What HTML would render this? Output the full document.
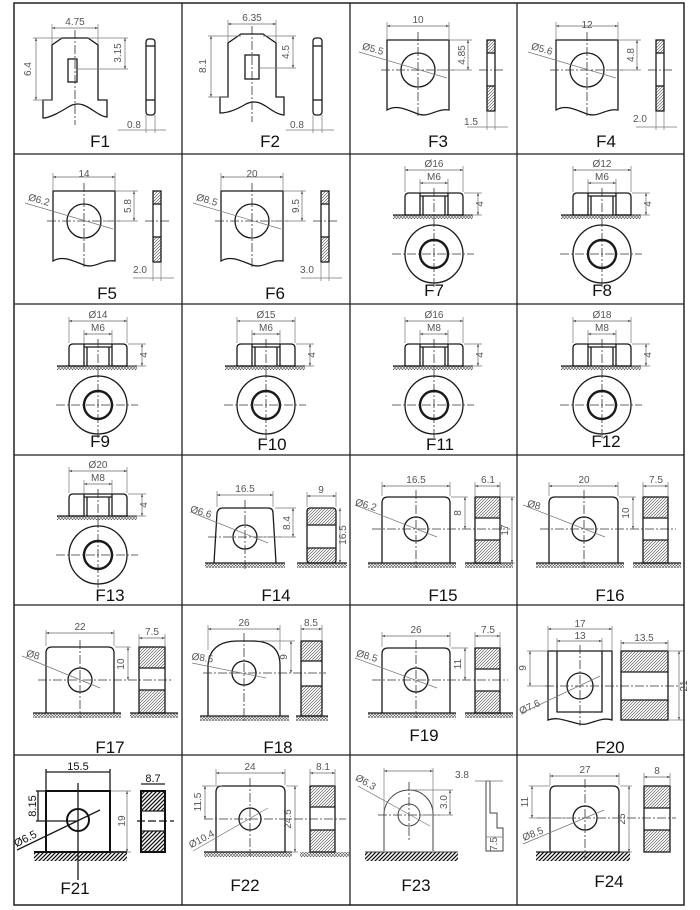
<!DOCTYPE html>
<html><head><meta charset="utf-8"><style>
html,body{margin:0;padding:0;background:#fff}
svg{display:block}
.o{fill:none;stroke:#1a1a1a;stroke-width:1.3}
.b{fill:none;stroke:#111;stroke-width:2}
.t{fill:none;stroke:#777;stroke-width:.7}
.d{fill:none;stroke:#666;stroke-width:.7;marker-start:url(#a);marker-end:url(#a)}
.c{stroke:#333;stroke-width:.8;stroke-dasharray:9 2 2 2;fill:none}
.tx{font-family:"Liberation Sans",sans-serif;font-size:10px;fill:#555;text-anchor:middle}
.lb{font-family:"Liberation Sans",sans-serif;font-size:17px;fill:#111;text-anchor:middle}
</style></head><body>
<svg width="700" height="910" viewBox="0 0 700 910" xmlns="http://www.w3.org/2000/svg">
<defs>
<marker id="a" viewBox="0 0 6 6" refX="5.5" refY="3" markerWidth="5" markerHeight="5" orient="auto-start-reverse"><path d="M0,1 L6,3 L0,5 Z" fill="#555"/></marker>
<pattern id="h" patternUnits="userSpaceOnUse" width="3" height="3"><path d="M0,3 L3,0 M-1,1 L1,-1 M2,4 L4,2" stroke="#444" stroke-width=".6"/></pattern>
<pattern id="g" patternUnits="userSpaceOnUse" width="3" height="3"><path d="M0,3 L3,0 M0,0 L3,3" stroke="#555" stroke-width=".6"/></pattern>
<pattern id="k" patternUnits="userSpaceOnUse" width="4" height="4"><path d="M0,4 L4,0 M-1,1 L1,-1 M3,5 L5,3" stroke="#111" stroke-width="1.3"/></pattern>

<g id="plate">
<path class="o" d="M0,70 V0 H62 V70 C50,68 42,78 31,74 C20,70 10,64 0,70 Z"/>
<circle class="o" cx="31" cy="30" r="17"/>
<line class="c" x1="-6" y1="30" x2="68" y2="30"/>
<line class="c" x1="31" y1="-8" x2="31" y2="77"/>
<line class="t" x1="0" y1="-18" x2="0" y2="-1"/><line class="t" x1="62" y1="-18" x2="62" y2="-1"/>
<line class="d" x1="0" y1="-14" x2="62" y2="-14"/>
<line class="t" x1="63" y1="0" x2="85" y2="0"/><line class="t" x1="50" y1="30" x2="85" y2="30"/>
<line class="d" x1="81" y1="0" x2="81" y2="30"/>
<line class="t" x1="-28" y1="12" x2="60" y2="38"/>
<rect x="100" y="0" width="8" height="13" fill="url(#h)"/><rect x="100" y="46" width="8" height="25" fill="url(#h)"/>
<rect class="o" x="100" y="0" width="8" height="71"/>
<line class="o" x1="100" y1="13" x2="108" y2="13"/><line class="o" x1="100" y1="46" x2="108" y2="46"/>
<line class="c" x1="92" y1="30" x2="116" y2="30"/>
<line class="t" x1="100" y1="71" x2="100" y2="90"/><line class="t" x1="108" y1="71" x2="108" y2="90"/>
<line class="t" x1="80" y1="87" x2="121" y2="87"/>
</g>

<g id="nut">
<path fill="url(#h)" class="o" d="M-29,22 V4 Q-29,0 -25,0 H-14 V22 Z"/>
<path fill="url(#h)" class="o" d="M29,22 V4 Q29,0 25,0 H14 V22 Z"/>
<line class="o" x1="-14" y1="3" x2="14" y2="3"/><line class="o" x1="-14" y1="0" x2="14" y2="0"/>
<line class="o" x1="-11" y1="3" x2="-11" y2="22"/><line class="o" x1="11" y1="3" x2="11" y2="22"/>
<rect x="-41" y="22" width="80" height="4" fill="url(#g)"/>
<line class="o" x1="-41" y1="22" x2="39" y2="22"/>
<line class="c" x1="0" y1="-5" x2="0" y2="96"/>
<circle class="o" cx="0" cy="61" r="29"/>
<circle cx="0" cy="61" r="14" fill="none" stroke="#1a1a1a" stroke-width="2.4"/>
<line class="c" x1="-42" y1="61" x2="40" y2="61"/>
<line class="t" x1="-29" y1="-27" x2="-29" y2="-1"/><line class="t" x1="29" y1="-27" x2="29" y2="-1"/>
<line class="d" x1="-29" y1="-23" x2="29" y2="-23"/>
<line class="t" x1="-14" y1="-14" x2="-14" y2="-1"/><line class="t" x1="14" y1="-14" x2="14" y2="-1"/>
<line class="d" x1="-14" y1="-10" x2="14" y2="-10"/>
<line class="t" x1="30" y1="0" x2="48" y2="0"/><line class="t" x1="30" y1="22" x2="48" y2="22"/>
<line class="d" x1="44" y1="0" x2="44" y2="22"/>
</g>
</defs>

<!-- grid -->
<rect x="14" y="3" width="670" height="902" fill="none" stroke="#222" stroke-width="1.5"/>
<g stroke="#222" stroke-width="1.3">
<line x1="182" y1="3" x2="182" y2="905"/><line x1="350" y1="3" x2="350" y2="905"/><line x1="517" y1="3" x2="517" y2="905"/>
<line x1="14" y1="154" x2="684" y2="154"/><line x1="14" y1="304" x2="684" y2="304"/><line x1="14" y1="455" x2="684" y2="455"/>
<line x1="14" y1="605" x2="684" y2="605"/><line x1="14" y1="755" x2="684" y2="755"/>
</g>

<!-- F1 -->
<path class="o" d="M52,100 V45 L62,38 H88 L98,45 V100 H107 V117 C95,116 85,98 70,106 C60,112 50,118 43,118 V100 Z"/>
<rect class="o" x="68" y="59" width="9" height="23"/>
<line class="c" x1="75" y1="30" x2="75" y2="125"/>
<line class="t" x1="52" y1="24" x2="52" y2="44"/><line class="t" x1="98" y1="24" x2="98" y2="44"/>
<line class="d" x1="52" y1="28" x2="98" y2="28"/>
<line class="t" x1="33" y1="38" x2="62" y2="38"/><line class="t" x1="33" y1="100" x2="52" y2="100"/>
<line class="d" x1="36" y1="38" x2="36" y2="100"/>
<line class="t" x1="77" y1="69" x2="128" y2="69"/><line class="t" x1="88" y1="38" x2="128" y2="38"/>
<line class="d" x1="125" y1="38" x2="125" y2="69"/>
<rect class="o" x="146" y="39" width="9" height="76" rx="3"/>
<line class="o" x1="146" y1="46" x2="155" y2="46"/><line class="o" x1="146" y1="100" x2="155" y2="100"/>
<line class="t" x1="146" y1="115" x2="146" y2="133"/><line class="t" x1="155" y1="115" x2="155" y2="133"/>
<line class="t" x1="118" y1="130" x2="166" y2="130"/>
<text class="tx" x="75" y="25">4.75</text>
<text class="tx" transform="rotate(-90 31 69)" x="31" y="69">6.4</text>
<text class="tx" transform="rotate(-90 121 53)" x="121" y="53">3.15</text>
<text class="tx" x="134" y="128">0.8</text>
<text class="lb" x="100" y="147">F1</text>

<!-- F2 -->
<path class="o" d="M228,97 V43 L241,34 H263 L276,43 V97 H284 V115 C270,114 262,96 246,104 C236,110 228,113 220,113 V97 Z"/>
<rect class="o" x="245" y="55" width="14" height="24"/>
<line class="c" x1="252" y1="26" x2="252" y2="122"/>
<line class="t" x1="228" y1="20" x2="228" y2="42"/><line class="t" x1="276" y1="20" x2="276" y2="42"/>
<line class="d" x1="228" y1="24" x2="276" y2="24"/>
<line class="t" x1="208" y1="36" x2="241" y2="36"/><line class="t" x1="208" y1="97" x2="228" y2="97"/>
<line class="d" x1="211" y1="36" x2="211" y2="97"/>
<line class="t" x1="259" y1="68" x2="296" y2="68"/><line class="t" x1="263" y1="36" x2="296" y2="36"/>
<line class="d" x1="293" y1="36" x2="293" y2="68"/>
<rect class="o" x="313" y="38" width="9" height="77" rx="3"/>
<line class="o" x1="313" y1="46" x2="322" y2="46"/><line class="o" x1="313" y1="100" x2="322" y2="100"/>
<line class="t" x1="313" y1="115" x2="313" y2="133"/><line class="t" x1="322" y1="115" x2="322" y2="133"/>
<line class="t" x1="286" y1="130" x2="334" y2="130"/>
<text class="tx" x="252" y="21">6.35</text>
<text class="tx" transform="rotate(-90 206 66)" x="206" y="66">8.1</text>
<text class="tx" transform="rotate(-90 289 52)" x="289" y="52">4.5</text>
<text class="tx" x="297" y="128">0.8</text>
<text class="lb" x="270" y="147">F2</text>

<!-- F3-F6 -->
<use href="#plate" x="387" y="40"/>
<use href="#plate" x="556" y="40"/>
<use href="#plate" x="53" y="191"/>
<use href="#plate" x="221" y="191"/>
<text class="tx" x="418" y="23">10</text>
<text class="tx" transform="rotate(-90 465 55)" x="465" y="55">4.85</text>
<text class="tx" transform="rotate(16 372 52)" x="372" y="52">Ø5.5</text>
<text class="tx" x="471" y="125">1.5</text>
<text class="lb" x="438" y="147">F3</text>
<text class="tx" x="587" y="28">12</text>
<text class="tx" transform="rotate(-90 634 55)" x="634" y="55">4.8</text>
<text class="tx" transform="rotate(16 541 52)" x="541" y="52">Ø5.6</text>
<text class="tx" x="640" y="122">2.0</text>
<text class="lb" x="606" y="147">F4</text>
<text class="tx" x="84" y="177">14</text>
<text class="tx" transform="rotate(-90 131 206)" x="131" y="206">5.8</text>
<text class="tx" transform="rotate(16 38 203)" x="38" y="203">Ø6.2</text>
<text class="tx" x="140" y="273">2.0</text>
<text class="lb" x="107" y="299">F5</text>
<text class="tx" x="252" y="177">20</text>
<text class="tx" transform="rotate(-90 299 206)" x="299" y="206">9.5</text>
<text class="tx" transform="rotate(16 206 203)" x="206" y="203">Ø8.5</text>
<text class="tx" x="307" y="273">3.0</text>
<text class="lb" x="275" y="299">F6</text>

<!-- nuts -->
<use href="#nut" x="434" y="193"/>
<use href="#nut" x="602" y="193"/>
<use href="#nut" x="98" y="344"/>
<use href="#nut" x="266" y="344"/>
<use href="#nut" x="434" y="344"/>
<use href="#nut" x="602" y="344"/>
<use href="#nut" x="98" y="494"/>
<g class="tx">
<text x="434" y="167">Ø16</text><text x="434" y="180">M6</text><text transform="rotate(-90 483 204)" x="483" y="204">4</text>
<text x="602" y="167">Ø12</text><text x="602" y="180">M6</text><text transform="rotate(-90 651 204)" x="651" y="204">4</text>
<text x="98" y="318">Ø14</text><text x="98" y="331">M6</text><text transform="rotate(-90 147 355)" x="147" y="355">4</text>
<text x="266" y="318">Ø15</text><text x="266" y="331">M6</text><text transform="rotate(-90 315 355)" x="315" y="355">4</text>
<text x="434" y="318">Ø16</text><text x="434" y="331">M8</text><text transform="rotate(-90 483 355)" x="483" y="355">4</text>
<text x="602" y="318">Ø18</text><text x="602" y="331">M8</text><text transform="rotate(-90 651 355)" x="651" y="355">4</text>
<text x="98" y="468">Ø20</text><text x="98" y="481">M8</text><text transform="rotate(-90 147 505)" x="147" y="505">4</text>
</g>
<text class="lb" x="434" y="296">F7</text>
<text class="lb" x="602" y="296">F8</text>
<text class="lb" x="100" y="447">F9</text>
<text class="lb" x="272" y="450">F10</text>
<text class="lb" x="440" y="450">F11</text>
<text class="lb" x="606" y="447">F12</text>
<text class="lb" x="110" y="601">F13</text>

<!-- F14 -->
<rect x="205" y="563" width="80" height="5" fill="url(#g)"/>
<rect x="297" y="563" width="50" height="5" fill="url(#g)"/>
<path class="o" d="M214,563 L217,513 Q218,508 223,508 H268 Q273,508 273,513 L276,563 H205 M285,563 H214"/>
<circle class="o" cx="245" cy="537" r="12"/>
<line class="c" x1="245" y1="500" x2="245" y2="570"/><line class="c" x1="208" y1="537" x2="282" y2="537"/>
<line class="t" x1="193" y1="513" x2="268" y2="543"/>
<line class="t" x1="217" y1="491" x2="217" y2="507"/><line class="t" x1="273" y1="491" x2="273" y2="507"/>
<line class="d" x1="217" y1="495" x2="273" y2="495"/>
<line class="t" x1="275" y1="508" x2="296" y2="508"/><line class="t" x1="257" y1="537" x2="296" y2="537"/>
<line class="d" x1="293" y1="508" x2="293" y2="537"/>
<rect x="307" y="508" width="29" height="17" fill="url(#h)"/><rect x="307" y="548" width="29" height="15" fill="url(#h)"/>
<rect class="o" x="307" y="508" width="29" height="55" rx="3"/>
<line class="o" x1="307" y1="525" x2="336" y2="525"/><line class="o" x1="307" y1="548" x2="336" y2="548"/>
<line class="o" x1="297" y1="563" x2="347" y2="563"/>
<line class="t" x1="307" y1="492" x2="307" y2="507"/><line class="t" x1="336" y1="492" x2="336" y2="507"/>
<line class="d" x1="307" y1="496" x2="336" y2="496"/>
<line class="d" x1="340" y1="508" x2="340" y2="563"/>
<text class="tx" x="245" y="492">16.5</text>
<text class="tx" transform="rotate(16 200 515)" x="200" y="515">Ø6.6</text>
<text class="tx" transform="rotate(-90 290 523)" x="290" y="523">8.4</text>
<text class="tx" x="321" y="493">9</text>
<text class="tx" transform="rotate(-90 346 535)" x="346" y="535">16.5</text>
<text class="lb" x="276" y="601">F14</text>

<!-- F15 -->
<rect x="368" y="563" width="88" height="5" fill="url(#g)"/>
<rect x="465" y="563" width="48" height="5" fill="url(#g)"/>
<path class="o" d="M382,563 V503 Q382,497 388,497 H444 Q450,497 450,503 V563 M368,563 H456"/>
<circle class="o" cx="416" cy="529" r="12"/>
<line class="c" x1="416" y1="490" x2="416" y2="568"/><line class="c" x1="372" y1="529" x2="510" y2="529"/>
<line class="t" x1="355" y1="505" x2="437" y2="537"/>
<line class="t" x1="382" y1="482" x2="382" y2="496"/><line class="t" x1="450" y1="482" x2="450" y2="496"/>
<line class="d" x1="382" y1="486" x2="450" y2="486"/>
<line class="t" x1="451" y1="497" x2="468" y2="497"/>
<line class="d" x1="465" y1="497" x2="465" y2="529"/>
<rect x="475" y="497" width="25" height="21" fill="url(#h)"/><rect x="475" y="540" width="25" height="23" fill="url(#h)"/>
<rect class="o" x="475" y="497" width="25" height="66"/>
<line class="o" x1="475" y1="518" x2="500" y2="518"/><line class="o" x1="475" y1="540" x2="500" y2="540"/>
<line class="o" x1="465" y1="563" x2="513" y2="563"/>
<line class="t" x1="475" y1="482" x2="475" y2="496"/><line class="t" x1="500" y1="482" x2="500" y2="496"/>
<line class="d" x1="475" y1="486" x2="500" y2="486"/>
<line class="t" x1="501" y1="497" x2="515" y2="497"/><line class="t" x1="501" y1="563" x2="515" y2="563"/>
<line class="d" x1="512" y1="497" x2="512" y2="563"/>
<text class="tx" x="416" y="483">16.5</text>
<text class="tx" transform="rotate(16 365 508)" x="365" y="508">Ø6.2</text>
<text class="tx" transform="rotate(-90 461 513)" x="461" y="513">8</text>
<text class="tx" x="488" y="483">6.1</text>
<text class="tx" transform="rotate(-90 508 530)" x="508" y="530">17</text>
<text class="lb" x="443" y="601">F15</text>

<!-- F16 -->
<rect x="536" y="563" width="88" height="5" fill="url(#g)"/>
<rect x="633" y="563" width="48" height="5" fill="url(#g)"/>
<path class="o" d="M549,563 V503 Q549,497 555,497 H612 Q618,497 618,503 V563 M536,563 H624"/>
<circle class="o" cx="584" cy="529" r="12"/>
<line class="c" x1="584" y1="490" x2="584" y2="568"/><line class="c" x1="540" y1="529" x2="676" y2="529"/>
<line class="t" x1="523" y1="505" x2="605" y2="537"/>
<line class="t" x1="549" y1="482" x2="549" y2="496"/><line class="t" x1="618" y1="482" x2="618" y2="496"/>
<line class="d" x1="549" y1="486" x2="618" y2="486"/>
<line class="t" x1="619" y1="497" x2="636" y2="497"/>
<line class="d" x1="633" y1="497" x2="633" y2="529"/>
<rect x="643" y="497" width="25" height="21" fill="url(#h)"/><rect x="643" y="540" width="25" height="23" fill="url(#h)"/>
<rect class="o" x="643" y="497" width="25" height="66"/>
<line class="o" x1="643" y1="518" x2="668" y2="518"/><line class="o" x1="643" y1="540" x2="668" y2="540"/>
<line class="o" x1="633" y1="563" x2="681" y2="563"/>
<line class="t" x1="643" y1="482" x2="643" y2="496"/><line class="t" x1="668" y1="482" x2="668" y2="496"/>
<line class="d" x1="643" y1="486" x2="668" y2="486"/>
<text class="tx" x="584" y="483">20</text>
<text class="tx" transform="rotate(16 533 508)" x="533" y="508">Ø8</text>
<text class="tx" transform="rotate(-90 629 513)" x="629" y="513">10</text>
<text class="tx" x="656" y="483">7.5</text>
<text class="lb" x="610" y="601">F16</text>

<!-- F17 -->
<rect x="33" y="713" width="88" height="5" fill="url(#g)"/>
<rect x="130" y="713" width="48" height="5" fill="url(#g)"/>
<path class="o" d="M46,713 V653 Q46,647 52,647 H108 Q114,647 114,653 V713 M33,713 H121"/>
<circle class="o" cx="80" cy="680" r="12"/>
<line class="c" x1="80" y1="640" x2="80" y2="718"/><line class="c" x1="38" y1="680" x2="172" y2="680"/>
<line class="t" x1="22" y1="656" x2="100" y2="688"/>
<line class="t" x1="46" y1="630" x2="46" y2="646"/><line class="t" x1="114" y1="630" x2="114" y2="646"/>
<line class="d" x1="46" y1="633" x2="114" y2="633"/>
<line class="t" x1="115" y1="647" x2="131" y2="647"/>
<line class="d" x1="128" y1="647" x2="128" y2="680"/>
<rect x="139" y="647" width="26" height="21" fill="url(#h)"/><rect x="139" y="690" width="26" height="23" fill="url(#h)"/>
<rect class="o" x="139" y="647" width="26" height="66"/>
<line class="o" x1="139" y1="668" x2="165" y2="668"/><line class="o" x1="139" y1="690" x2="165" y2="690"/>
<line class="o" x1="130" y1="713" x2="178" y2="713"/>
<line class="t" x1="139" y1="634" x2="139" y2="646"/><line class="t" x1="165" y1="634" x2="165" y2="646"/>
<line class="d" x1="139" y1="638" x2="165" y2="638"/>
<text class="tx" x="80" y="630">22</text>
<text class="tx" transform="rotate(16 32 658)" x="32" y="658">Ø8</text>
<text class="tx" transform="rotate(-90 124 664)" x="124" y="664">10</text>
<text class="tx" x="152" y="635">7.5</text>
<text class="lb" x="110" y="753">F17</text>

<!-- F18 -->
<rect x="200" y="716" width="89" height="5" fill="url(#g)"/>
<rect x="296" y="716" width="32" height="5" fill="url(#g)"/>
<path class="o" d="M208,716 V665 Q210,641 238,641 H252 Q280,641 280,665 V716 M200,716 H289"/>
<circle class="o" cx="244" cy="673" r="12"/>
<line class="c" x1="244" y1="633" x2="244" y2="721"/><line class="c" x1="203" y1="673" x2="326" y2="673"/>
<line class="t" x1="192" y1="663" x2="266" y2="678"/>
<line class="t" x1="208" y1="625" x2="208" y2="650"/><line class="t" x1="280" y1="625" x2="280" y2="650"/>
<line class="d" x1="208" y1="629" x2="280" y2="629"/>
<line class="t" x1="260" y1="641" x2="295" y2="641"/>
<line class="d" x1="291" y1="641" x2="291" y2="673"/>
<rect x="301" y="641" width="21" height="20" fill="url(#h)"/><rect x="301" y="686" width="21" height="30" fill="url(#h)"/>
<rect class="o" x="301" y="641" width="21" height="75"/>
<line class="o" x1="301" y1="661" x2="322" y2="661"/><line class="o" x1="301" y1="686" x2="322" y2="686"/>
<line class="o" x1="296" y1="716" x2="328" y2="716"/>
<line class="t" x1="301" y1="625" x2="301" y2="640"/><line class="t" x1="322" y1="625" x2="322" y2="640"/>
<line class="d" x1="301" y1="629" x2="322" y2="629"/>
<text class="tx" x="244" y="626">26</text>
<text class="tx" transform="rotate(8 202 661)" x="202" y="661">Ø8.5</text>
<text class="tx" transform="rotate(-90 287 657)" x="287" y="657">9</text>
<text class="tx" x="311" y="626">8.5</text>
<text class="lb" x="278" y="753">F18</text>

<!-- F19 -->
<rect x="368" y="713" width="88" height="5" fill="url(#g)"/>
<rect x="465" y="713" width="48" height="5" fill="url(#g)"/>
<path class="o" d="M382,713 V654 Q382,648 388,648 H444 Q450,648 450,654 V713 M368,713 H456"/>
<circle class="o" cx="416" cy="680" r="12"/>
<line class="c" x1="416" y1="640" x2="416" y2="718"/><line class="c" x1="372" y1="680" x2="508" y2="680"/>
<line class="t" x1="355" y1="658" x2="437" y2="688"/>
<line class="t" x1="382" y1="632" x2="382" y2="647"/><line class="t" x1="450" y1="632" x2="450" y2="647"/>
<line class="d" x1="382" y1="636" x2="450" y2="636"/>
<line class="t" x1="451" y1="648" x2="468" y2="648"/>
<line class="d" x1="465" y1="648" x2="465" y2="680"/>
<rect x="475" y="648" width="25" height="21" fill="url(#h)"/><rect x="475" y="691" width="25" height="22" fill="url(#h)"/>
<rect class="o" x="475" y="648" width="25" height="65"/>
<line class="o" x1="475" y1="669" x2="500" y2="669"/><line class="o" x1="475" y1="691" x2="500" y2="691"/>
<line class="o" x1="465" y1="713" x2="513" y2="713"/>
<line class="t" x1="475" y1="632" x2="475" y2="647"/><line class="t" x1="500" y1="632" x2="500" y2="647"/>
<line class="d" x1="475" y1="636" x2="500" y2="636"/>
<text class="tx" x="416" y="633">26</text>
<text class="tx" transform="rotate(16 366 659)" x="366" y="659">Ø8.5</text>
<text class="tx" transform="rotate(-90 461 664)" x="461" y="664">11</text>
<text class="tx" x="488" y="633">7.5</text>
<text class="lb" x="424" y="741">F19</text>

<!-- F20 -->
<path class="o" d="M548,720 V651 H612 V720 C600,716 590,726 580,724 C568,722 558,716 548,720 Z"/>
<path class="o" d="M557,651 V712 H602 V651"/>
<circle class="o" cx="580" cy="686" r="13"/>
<line class="c" x1="580" y1="645" x2="580" y2="726"/><line class="c" x1="545" y1="686" x2="680" y2="686"/>
<line class="t" x1="522" y1="713" x2="600" y2="676"/>
<line class="t" x1="548" y1="626" x2="548" y2="650"/><line class="t" x1="612" y1="626" x2="612" y2="650"/>
<line class="d" x1="548" y1="629" x2="612" y2="629"/>
<line class="t" x1="557" y1="638" x2="557" y2="650"/><line class="t" x1="602" y1="638" x2="602" y2="650"/>
<line class="d" x1="557" y1="641" x2="602" y2="641"/>
<line class="t" x1="527" y1="651" x2="547" y2="651"/><line class="t" x1="527" y1="686" x2="545" y2="686"/>
<line class="d" x1="530" y1="651" x2="530" y2="686"/>
<rect x="621" y="651" width="47" height="21" fill="url(#h)"/><rect x="621" y="700" width="47" height="20" fill="url(#h)"/>
<rect class="o" x="621" y="651" width="47" height="69"/>
<line class="o" x1="621" y1="672" x2="668" y2="672"/><line class="o" x1="621" y1="700" x2="668" y2="700"/>
<line class="t" x1="621" y1="640" x2="621" y2="650"/><line class="t" x1="668" y1="640" x2="668" y2="650"/>
<line class="d" x1="621" y1="643" x2="668" y2="643"/>
<line class="t" x1="669" y1="651" x2="683" y2="651"/><line class="t" x1="669" y1="720" x2="683" y2="720"/>
<line class="d" x1="679" y1="651" x2="679" y2="720"/>
<text class="tx" x="580" y="627">17</text>
<text class="tx" x="580" y="639">13</text>
<text class="tx" x="644" y="641">13.5</text>
<text class="tx" transform="rotate(-90 526 668)" x="526" y="668">9</text>
<text class="tx" transform="rotate(-90 687 686)" x="687" y="686">21</text>
<text class="tx" transform="rotate(-25 531 710)" x="531" y="710">Ø7.6</text>
<text class="lb" x="610" y="753">F20</text>

<!-- F21 -->
<rect x="34" y="852" width="93" height="9" fill="url(#k)"/>
<path class="b" d="M46,852 V791 H110 V852 M34,852 H127" stroke-width="1.5"/>
<line class="o" x1="36" y1="791" x2="46" y2="791"/>
<line class="o" x1="36" y1="821" x2="78" y2="821"/>
<circle class="b" cx="78" cy="820" r="11" stroke-width="1.5"/>
<line class="o" x1="78" y1="783" x2="78" y2="880"/>
<line class="o" x1="17" y1="850" x2="100" y2="810"/>
<line class="o" x1="46" y1="769" x2="46" y2="790"/><line class="o" x1="110" y1="769" x2="110" y2="790"/>
<line class="o" x1="46" y1="772" x2="110" y2="772"/>
<line class="o" x1="38" y1="791" x2="38" y2="821"/>
<line class="t" x1="111" y1="791" x2="131" y2="791"/><line class="t" x1="111" y1="852" x2="131" y2="852"/>
<line class="d" x1="127" y1="791" x2="127" y2="852"/>
<rect x="141" y="791" width="24" height="20" fill="url(#k)"/><rect x="141" y="831" width="24" height="21" fill="url(#k)"/>
<rect class="b" x="141" y="791" width="24" height="61" stroke-width="1.5"/>
<line class="o" x1="141" y1="811" x2="165" y2="811"/><line class="o" x1="141" y1="831" x2="165" y2="831"/>
<line x1="137" y1="821" x2="174" y2="821" stroke="#111" stroke-width="1.3" stroke-dasharray="8 3"/>
<line class="o" x1="141" y1="784" x2="165" y2="784"/>
<text class="tx" style="fill:#111;font-size:11px" x="78" y="770">15.5</text>
<text class="tx" style="fill:#111;font-size:11px" x="153" y="782">8.7</text>
<text class="tx" style="fill:#111;font-size:11px" transform="rotate(-90 36 806)" x="36" y="806">8.15</text>
<text class="tx" transform="rotate(-90 125 821)" x="125" y="821">19</text>
<text class="tx" style="fill:#111;font-size:11px" transform="rotate(-27 27 842)" x="27" y="842">Ø6.5</text>
<text class="lb" x="75" y="894">F21</text>

<!-- F22 -->
<rect x="204" y="852" width="88" height="5" fill="url(#g)"/>
<rect x="300" y="852" width="50" height="5" fill="url(#g)"/>
<path class="o" d="M216,852 V792 Q216,786 222,786 H279 Q285,786 285,792 V852 M204,852 H292"/>
<circle class="o" cx="250" cy="819" r="11"/>
<line class="c" x1="250" y1="778" x2="250" y2="856"/><line class="c" x1="204" y1="819" x2="346" y2="819"/>
<line class="t" x1="193" y1="851" x2="268" y2="808"/>
<line class="t" x1="216" y1="769" x2="216" y2="785"/><line class="t" x1="285" y1="769" x2="285" y2="785"/>
<line class="d" x1="216" y1="773" x2="285" y2="773"/>
<line class="t" x1="202" y1="786" x2="222" y2="786"/>
<line class="d" x1="205" y1="786" x2="205" y2="819"/>
<line class="t" x1="286" y1="786" x2="298" y2="786"/><line class="t" x1="286" y1="852" x2="298" y2="852"/>
<line class="d" x1="295" y1="786" x2="295" y2="852"/>
<rect x="310" y="786" width="25" height="21" fill="url(#h)"/><rect x="310" y="830" width="25" height="22" fill="url(#h)"/>
<rect class="o" x="310" y="786" width="25" height="66"/>
<line class="o" x1="310" y1="807" x2="335" y2="807"/><line class="o" x1="310" y1="830" x2="335" y2="830"/>
<line class="t" x1="310" y1="769" x2="310" y2="785"/><line class="t" x1="335" y1="769" x2="335" y2="785"/>
<line class="d" x1="310" y1="773" x2="335" y2="773"/>
<text class="tx" x="250" y="770">24</text>
<text class="tx" x="323" y="770">8.1</text>
<text class="tx" transform="rotate(-90 201 802)" x="201" y="802">11.5</text>
<text class="tx" transform="rotate(-90 291 819)" x="291" y="819">24.5</text>
<text class="tx" transform="rotate(-28 203 842)" x="203" y="842">Ø10.4</text>
<text class="lb" x="245" y="891">F22</text>

<!-- F23 -->
<rect x="365" y="852" width="93" height="9" fill="url(#k)"/>
<path class="t" style="stroke:#444;stroke-width:1" d="M384,851 V815 A25,25 0 0 1 409,790 A24,24 0 0 1 433,815 V851 M365,852 H458"/>
<circle class="t" style="stroke:#444;stroke-width:1" cx="409" cy="815" r="11"/>
<line class="c" x1="409" y1="782" x2="409" y2="840"/><line class="c" x1="378" y1="815" x2="440" y2="815"/>
<line class="t" x1="358" y1="786" x2="430" y2="826"/>
<line class="t" x1="384" y1="768" x2="384" y2="812"/><line class="t" x1="433" y1="768" x2="433" y2="812"/>
<line class="d" x1="384" y1="771" x2="433" y2="771"/>
<line class="t" x1="409" y1="790" x2="453" y2="790"/><line class="t" x1="420" y1="815" x2="453" y2="815"/>
<line class="d" x1="450" y1="790" x2="450" y2="815"/>
<path class="t" style="stroke:#444;stroke-width:1" d="M486,781 V851 H503 V828 H497 V813 H490 V781 Z"/>
<line class="t" x1="475" y1="781" x2="503" y2="781"/>
<line class="t" x1="486" y1="837" x2="503" y2="837"/>
<text class="tx" x="462" y="778">3.8</text>
<text class="tx" transform="rotate(-90 447 802)" x="447" y="802">3.0</text>
<text class="tx" transform="rotate(-90 497 844)" x="497" y="844">7.5</text>
<text class="tx" transform="rotate(30 364 785)" x="364" y="785">Ø6.3</text>
<text class="lb" x="416" y="891">F23</text>

<!-- F24 -->
<rect x="536" y="852" width="94" height="9" fill="url(#k)"/>
<path class="o" d="M550,852 V792 Q550,786 556,786 H613 Q619,786 619,792 V852 M536,852 H630"/>
<circle class="o" cx="585" cy="818" r="12"/>
<line class="c" x1="585" y1="779" x2="585" y2="858"/><line class="c" x1="537" y1="818" x2="676" y2="818"/>
<line class="t" x1="523" y1="844" x2="604" y2="810"/>
<line class="t" x1="550" y1="773" x2="550" y2="785"/><line class="t" x1="619" y1="773" x2="619" y2="785"/>
<line class="d" x1="550" y1="776" x2="619" y2="776"/>
<line class="t" x1="529" y1="786" x2="550" y2="786"/><line class="t" x1="529" y1="818" x2="573" y2="818"/>
<line class="d" x1="532" y1="786" x2="532" y2="818"/>
<line class="t" x1="620" y1="786" x2="632" y2="786"/><line class="t" x1="620" y1="852" x2="632" y2="852"/>
<line class="d" x1="629" y1="786" x2="629" y2="852"/>
<rect x="644" y="786" width="26" height="22" fill="url(#h)"/><rect x="644" y="830" width="26" height="22" fill="url(#h)"/>
<rect class="o" x="644" y="786" width="26" height="66"/>
<line class="o" x1="644" y1="808" x2="670" y2="808"/><line class="o" x1="644" y1="830" x2="670" y2="830"/>
<line class="t" x1="644" y1="773" x2="644" y2="785"/><line class="t" x1="670" y1="773" x2="670" y2="785"/>
<line class="d" x1="644" y1="777" x2="670" y2="777"/>
<text class="tx" x="585" y="773">27</text>
<text class="tx" x="657" y="774">8</text>
<text class="tx" transform="rotate(-90 528 802)" x="528" y="802">11</text>
<text class="tx" transform="rotate(-90 625 819)" x="625" y="819">25</text>
<text class="tx" transform="rotate(-22 534 837)" x="534" y="837">Ø8.5</text>
<text class="lb" x="609" y="887">F24</text>
</svg>
</body></html>
